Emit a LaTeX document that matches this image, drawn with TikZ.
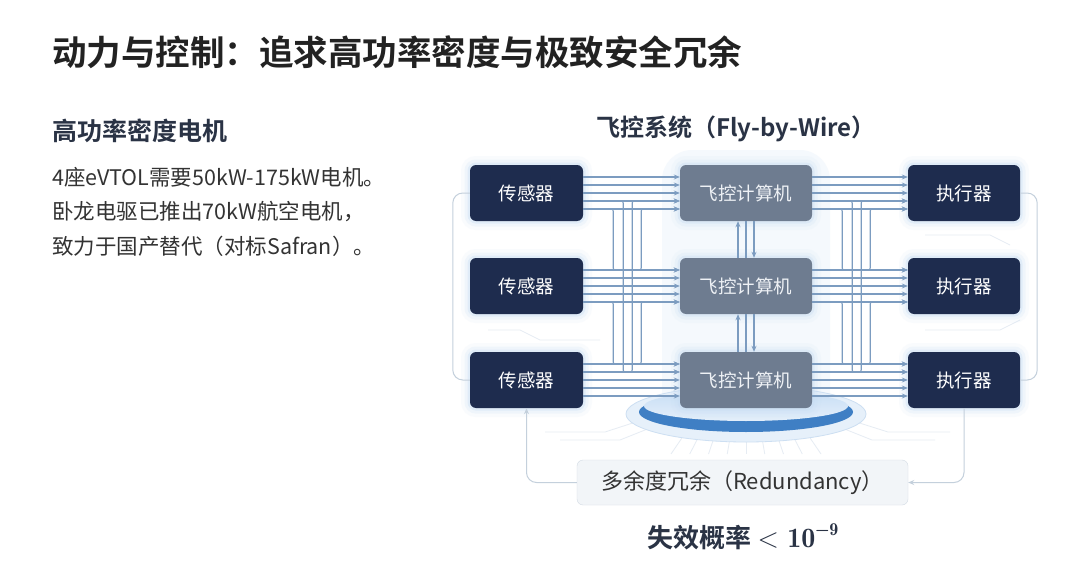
\RequirePackage{fix-cm}
\documentclass[tikz,border=0pt]{standalone}
\usepackage[no-math]{fontspec}
\setmainfont{Noto Sans CJK SC}[BoldFont={Noto Sans CJK SC Bold}]
\usetikzlibrary{arrows.meta,calc}
\definecolor{navy}{HTML}{1E2C4E}
\definecolor{slate}{HTML}{6E7C90}
\definecolor{slatetext}{HTML}{EEF1F5}
\definecolor{wire}{HTML}{7C9CC0}
\definecolor{fb}{HTML}{C4D0DC}
\definecolor{ink}{HTML}{222222}
\definecolor{head}{HTML}{2A3345}
\definecolor{bodyc}{HTML}{333333}
\definecolor{glowc}{HTML}{C6DCF3}
\definecolor{trace}{HTML}{E6ECF3}
\definecolor{rim}{HTML}{3F7FC4}
\definecolor{colglow}{HTML}{EAF2FB}
\definecolor{pedout}{HTML}{E6F0FA}
\definecolor{pedline}{HTML}{CDDFF2}
\definecolor{pedtop}{HTML}{C8DEF5}
\definecolor{pedbot}{HTML}{E4EFFA}
\definecolor{redfill}{HTML}{F2F5F8}
\definecolor{redline}{HTML}{D3DBE4}
\newcommand\failtxt{{\fontsize{26}{28}\selectfont\bfseries 失效概率\ \fontfamily{lmr}\fontsize{28}{30}\selectfont\mdseries<\ \bfseries 10\raisebox{0.45em}{\fontsize{18}{19}\selectfont −9}}}
\begin{document}
\begin{tikzpicture}[x=1pt,y=-1pt,
  halo/.style={preaction={draw=glowc,line width=18pt,opacity=0.10},
               preaction={draw=glowc,line width=11pt,opacity=0.18},
               preaction={draw=glowc,line width=5pt,opacity=0.35}},
  unit/.style={rectangle,rounded corners=6pt,minimum height=56pt,inner sep=0pt,
               font=\fontsize{18.5}{20}\selectfont,halo},
  sensor/.style={unit,fill=navy,text=white,minimum width=113pt},
  actor/.style={unit,fill=navy,text=white,minimum width=112pt},
  comp/.style={unit,fill=slate,text=slatetext,minimum width=132pt},
  flow/.style={draw=wire,line width=1.1pt,rounded corners=2pt,-{Stealth[length=6pt,width=5pt]}},
  plainw/.style={draw=wire,line width=1.1pt},
  fbline/.style={draw=fb,line width=1pt,rounded corners=10pt},
  txt/.style={inner sep=0pt,anchor=west}]
\useasboundingbox (0,0) rectangle (1080,586);
\fill[white] (0,0) rectangle (1080,586);

% column glow and decorative traces
\fill[rounded corners=30pt,fill=colglow,opacity=0.45] (662,150) rectangle (830,432);
\foreach \dx in {-60,-45,-30,-15,0,15,30,45,60}{
  \draw[trace,line width=0.8pt] (746+\dx,432) -- (746+\dx*1.25,454);}
\draw[trace,line width=0.8pt] (650,428) -- (620,440) -- (560,440);
\draw[trace,line width=0.8pt] (642,420) -- (605,432) -- (545,432);
\draw[trace,line width=0.8pt] (842,428) -- (872,440) -- (935,440);
\draw[trace,line width=0.8pt] (850,420) -- (888,432) -- (950,432);
\draw[trace,line width=0.8pt] (488,330) -- (520,330) -- (540,340) -- (600,340);
\draw[trace,line width=0.8pt] (925,235) -- (990,235) -- (1010,245);
\draw[trace,line width=0.8pt] (925,330) -- (1000,330) -- (1020,320);

% pedestal
\fill[pedout] (746,414) ellipse [x radius=120,y radius=28];
\draw[pedline,line width=0.8pt] (746,414) ellipse [x radius=120,y radius=28];
\fill[rim] (746,412) ellipse [x radius=107,y radius=20];
\shade[top color=pedtop,bottom color=pedbot] (746,406) ellipse [x radius=102,y radius=15];

% texts
\node[txt,text=ink,font=\bfseries\fontsize{34.5}{36}\selectfont] (title) at (52,52) {动力与控制：追求高功率密度与极致安全冗余};
\node[txt,text=head,font=\bfseries\fontsize{25}{27}\selectfont] (sub) at (52,131) {高功率密度电机};
\node[txt,text=bodyc,font=\fontsize{21.5}{23}\selectfont] (l1) at (52,177) {4座eVTOL需要50kW-175kW电机。};
\node[txt,text=bodyc,font=\fontsize{21.5}{23}\selectfont] (l2) at (52,212) {卧龙电驱已推出70kW航空电机，};
\node[txt,text=bodyc,font=\fontsize{21.5}{23}\selectfont] (l3) at (52,246) {致力于国产替代（对标Safran）。};
\node[inner sep=0pt,text=head,font=\bfseries\fontsize{24}{26}\selectfont] (fbw) at (736,129) {飞控系统（Fly-by-Wire）};

% boxes
\foreach \r/\y in {1/193,2/286,3/380}{
  \node[sensor] (s\r) at (526.5,\y) {传感器};
  \node[comp] (c\r) at (746,\y) {飞控计算机};
  \node[actor] (a\r) at (964,\y) {执行器};
}
\node[rectangle,rounded corners=6pt,fill=redfill,draw=redline,
      minimum width=331pt,minimum height=45pt,inner sep=0pt,text=bodyc,font=\fontsize{22}{24}\selectfont] (rbox) at (742.5,482.5) {多余度冗余（Redundancy）};
\node[inner sep=0pt,text=head] (fail) at (743,537) {\failtxt};

% straight links
\foreach \r in {1,2,3}{
  \foreach \o in {-16,-8,0,8,16}{
    \draw[flow] ([yshift=\o pt]s\r.east) -- ([yshift=\o pt]c\r.west);
    \draw[flow] ([yshift=\o pt]c\r.east) -- ([yshift=\o pt]a\r.west);
  }
}
% cross links (sensor -> computer, computer -> actuator)
\foreach \A/\B in {s/c,c/a}{
  \draw[flow] ([yshift=-16pt]\A1.east) -- ++(30,0) |- ([yshift=16pt]\B2.west);
  \draw[flow] ([yshift=-8pt]\A1.east) -- ++(40,0) |- ([yshift=8pt]\B3.west);
  \draw[flow] ([yshift=8pt]\A3.east) -- ++(49,0) |- ([yshift=-8pt]\B1.west);
  \draw[flow] ([yshift=16pt]\A2.east) -- ++(58,0) |- ([yshift=-16pt]\B1.west);
  \draw[flow] ([yshift=-16pt]\A2.east) -- ++(30,0) |- ([yshift=16pt]\B3.west);
  \draw[flow] ([yshift=16pt]\A3.east) -- ++(58,0) |- ([yshift=-16pt]\B2.west);
}
% computer to computer
\foreach \u/\d in {1/2,2/3}{
  \draw[flow] ([xshift=-8pt]c\d.north) -- ([xshift=-8pt]c\u.south);
  \draw[plainw] (c\u.south) -- (c\d.north);
  \draw[flow] ([xshift=8pt]c\u.south) -- ([xshift=8pt]c\d.north);
}
% feedback
\draw[fbline] (s1.west) -- ++(-17,0) |- (s3.west);
\draw[fbline] (a1.east) -- ++(17,0) |- (a3.east);
\draw[fbline,-{Stealth[length=6pt,width=5pt]}] (rbox.west) -| (s3.south);
\draw[fbline,-{Stealth[length=6pt,width=5pt]}] (a3.south) |- (rbox.east);
\end{tikzpicture}
\end{document}
